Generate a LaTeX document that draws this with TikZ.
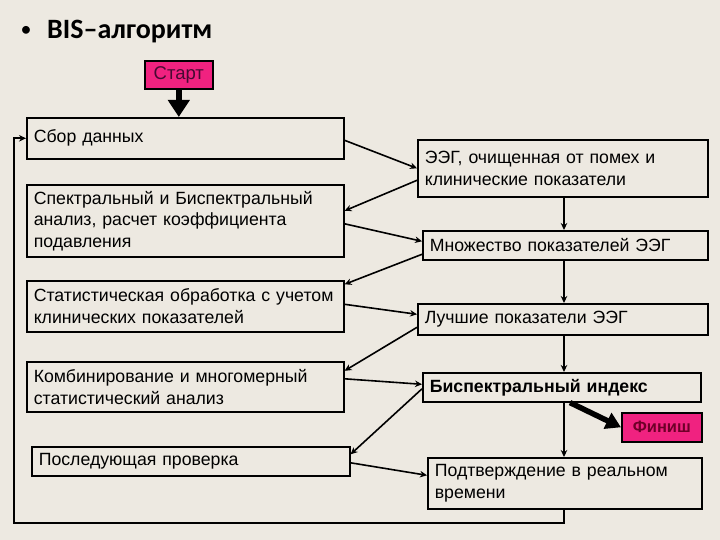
\documentclass[tikz,border=0pt]{standalone}
\usepackage{fontspec}
\setmainfont{Liberation Sans}
\newfontfamily\titlefont{Carlito}
\usetikzlibrary{arrows.meta,calc}
\definecolor{bg}{RGB}{237,233,225}
\definecolor{pinkbox}{RGB}{240,34,128}
\definecolor{starttxt}{RGB}{70,10,50}
\definecolor{fintxt}{RGB}{110,0,40}
\tikzset{
  box/.style={draw=black, line width=1.6pt, fill=bg, inner ysep=0pt, inner xsep=7pt,
    align=left, anchor=north west, font=\fontsize{17.7}{21.5}\selectfont},
  pinkb/.style={draw=black, line width=1.6pt, fill=pinkbox, inner sep=0pt,
    anchor=north west, align=center},
  conn/.style={line width=1.6pt, -{Stealth[length=7pt,width=6.5pt]}},
  thick arrow/.style={line width=6.5pt, -{Triangle[length=17pt,width=21pt]}},
}
\begin{document}
\begin{tikzpicture}[x=1pt,y=-1pt]
\fill[bg] (0,0) rectangle (720,540);
\useasboundingbox (0,0) rectangle (720,540);

% title
\node[anchor=center, font=\titlefont\fontsize{22}{24}\selectfont] (bul) at (26,31) {•};
\node[anchor=west, inner sep=0pt, font=\titlefont\bfseries\fontsize{28}{30}\selectfont] (title) at (47,32) {BIS–алгоритм};

% start / finish
\node[pinkb, minimum width=68pt, minimum height=28pt, text=starttxt, font=\fontsize{18.5}{20}\selectfont] (start) at (144,60) {Старт};
\node[pinkb, minimum width=80pt, minimum height=29pt, text=fintxt, font=\bfseries\fontsize{16.5}{18}\selectfont] (fin) at (621,412) {Финиш};

% left column
\node[box, text width=303pt, minimum height=41pt] (L1) at (26,117) {Сбор данных};
\node[box, text width=303pt, minimum height=72pt] (L2) at (26,184) {Спектральный и Биспектральный\\анализ, расчет коэффициента\\подавления};
\node[box, text width=303pt, minimum height=51pt] (L3) at (26,280) {Статистическая обработка с учетом\\клинических показателей};
\node[box, text width=303pt, minimum height=50pt] (L4) at (26,361) {Комбинирование и многомерный\\статистический анализ};
\node[box, text width=304pt, minimum height=29pt] (L5) at (31,446) {Последующая проверка};

% right column
\node[box, text width=276pt, minimum height=57pt] (R1) at (417,139) {ЭЭГ, очищенная от помех и\\клинические показатели};
\node[box, text width=271pt, minimum height=29pt] (R2) at (422,230) {Множество показателей ЭЭГ};
\node[box, text width=276pt, minimum height=31pt] (R3) at (417,303) {Лучшие показатели ЭЭГ};
\node[box, text width=264pt, minimum height=29pt, font=\bfseries\fontsize{17.7}{21.5}\selectfont] (R4) at (422,372) {Биспектральный индекс};
\node[box, text width=260pt, minimum height=51pt] (R5) at (427,457) {Подтверждение в реальном\\времени};

\coordinate (col) at (564,0);
\coordinate (fincol) at (570,0);
\coordinate (lb) at (14,523);

% start arrow
\draw[thick arrow] (start.south) -- (start.south |- L1.north);

% zigzag connectors
\draw[conn] ([yshift=-2pt]L1.east) -- (R1.west);
\draw[conn] ([yshift=-12pt]R1.west) -- ([yshift=10pt]L2.east);
\draw[conn] ([yshift=-3pt]L2.east) -- ([yshift=4pt]R2.west);
\draw[conn] ([yshift=-9pt]R2.west) -- ([yshift=22pt]L3.east);
\draw[conn] ([yshift=2pt]L3.east) -- ([yshift=5pt]R3.west);
\draw[conn] ([yshift=-8pt]R3.west) -- ([yshift=16pt]L4.east);
\draw[conn] ([yshift=8pt]L4.east) -- ([yshift=3pt]R4.west);
\draw[conn] ([yshift=-1.5pt]R4.west) -- ([yshift=7pt]L5.east);
\draw[conn] ([yshift=-1.5pt]L5.east) -- ([yshift=8pt]R5.west);

% vertical connectors
\draw[conn] (R1.south -| col) -- (R2.north -| col);
\draw[conn] (R2.south -| col) -- (R3.north -| col);
\draw[conn] (R3.south -| col) -- (R4.north -| col);
\draw[conn] (R4.south -| col) -- (R5.north -| col);

% finish arrow
\draw[line width=5.5pt, -{Triangle[length=15pt,width=17pt]}] (R4.south -| fincol) -- (fin.west);

% feedback loop
\draw[conn] (R5.south -| col) |- (lb) |- (L1.west);
\end{tikzpicture}
\end{document}
